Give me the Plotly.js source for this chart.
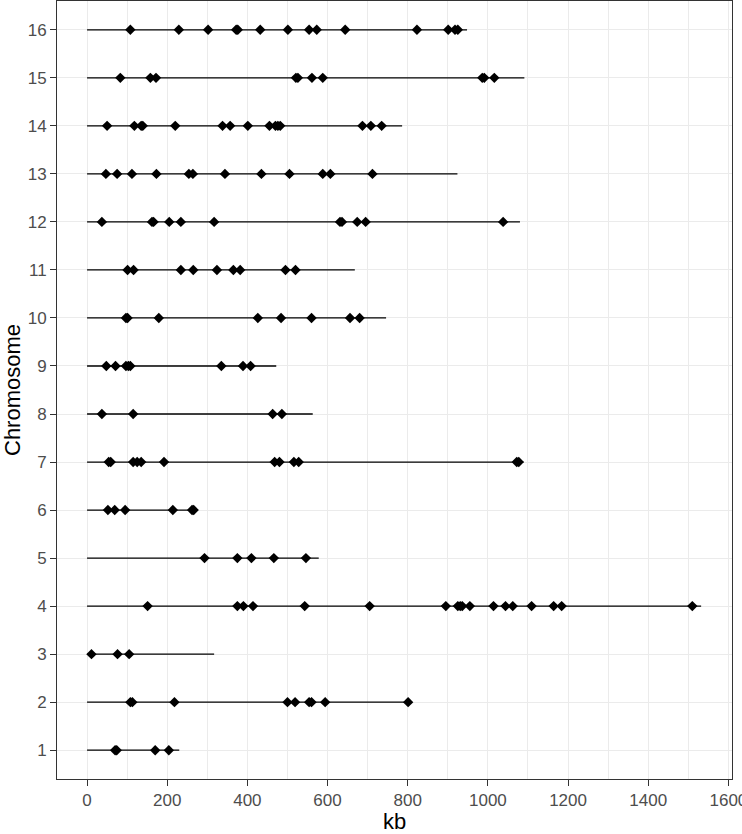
<!DOCTYPE html>
<html>
<head>
<meta charset="utf-8">
<script src="https://cdn.plot.ly/plotly-3.0.1.min.js"></script>
<style>
  body { margin: 0; background: #fff; overflow: hidden; }
  #plot { width: 742px; height: 834px; }
</style>
</head>
<body>
<div id="plot"></div>
<script>
// chromosome lengths (kb) and marker positions (kb)
var chromosomes = [1, 2, 3, 4, 5, 6, 7, 8, 9, 10, 11, 12, 13, 14, 15, 16];
var lengths = [230, 802, 317, 1532, 578, 267, 1089, 563, 472, 746, 668, 1080, 924, 786, 1091, 948];

var chr1 = [70, 74, 170, 204];
var chr2 = [108, 113, 218, 500, 519, 554, 560, 594, 801];
var chr3 = [11, 76, 105];
var chr4 = [151, 375, 390, 414, 543, 705, 895, 925, 931, 936, 955, 1014, 1044, 1062, 1109, 1164, 1184, 1510];
var chr5 = [293, 375, 410, 466, 546];
var chr6 = [52, 69, 95, 214, 262, 266];
var chr7 = [54, 59, 115, 125, 135, 192, 468, 480, 516, 528, 1072, 1077];
var chr8 = [37, 115, 463, 486];
var chr9 = [48, 71, 97, 103, 108, 335, 389, 408];
var chr10 = [97, 101, 179, 426, 484, 560, 656, 680];
var chr11 = [101, 116, 234, 265, 324, 365, 382, 495, 520];
var chr12 = [37, 162, 166, 205, 234, 317, 631, 636, 674, 695, 1038];
var chr13 = [47, 75, 112, 173, 254, 264, 344, 435, 505, 588, 607, 712];
var chr14 = [50, 118, 135, 139, 220, 338, 357, 401, 455, 470, 476, 482, 687, 708, 735];
var chr15 = [83, 158, 172, 521, 526, 561, 588, 986, 991, 1016];
var chr16 = [108, 229, 302, 372, 376, 432, 501, 554, 573, 644, 823, 901, 918, 925];

var markers = [chr1, chr2, chr3, chr4, chr5, chr6, chr7, chr8,
               chr9, chr10, chr11, chr12, chr13, chr14, chr15, chr16];

var xTicks = [0, 200, 400, 600, 800, 1000, 1200, 1400, 1600];

// segments from 0 to chromosome length
var segX = [], segY = [];
chromosomes.forEach(function(c, i) {
  segX.push(0, lengths[i], null);
  segY.push(c, c, null);
});

var ptX = [], ptY = [];
markers.forEach(function(arr, i) {
  arr.forEach(function(v) {
    ptX.push(v);
    ptY.push(chromosomes[i]);
  });
});

var traces = [
  {
    x: segX, y: segY,
    type: "scatter", mode: "lines",
    line: { color: "#000000", width: 1.3 },
    hoverinfo: "skip"
  },
  {
    x: ptX, y: ptY,
    type: "scatter", mode: "markers",
    marker: { symbol: "diamond", size: 8, color: "#000000", line: { width: 0 } }
  }
];

var layout = {
  width: 742,
  height: 834,
  margin: { l: 57, r: 10, t: 1, b: 55 },
  paper_bgcolor: "#ffffff",
  plot_bgcolor: "#ffffff",
  showlegend: false,
  font: { family: "Liberation Sans, Arial, sans-serif", color: "#4d4d4d", size: 17 },
  xaxis: {
    range: [-75, 1609],
    tickvals: xTicks,
    ticktext: xTicks.map(String),
    ticks: "outside",
    ticklen: 6,
    tickwidth: 1,
    tickcolor: "#333333",
    ticklabeloverflow: "allow",
    showgrid: true,
    gridcolor: "#ebebeb",
    gridwidth: 1,
    minor: { dtick: 100, tick0: 0, showgrid: true, gridcolor: "#ebebeb", gridwidth: 1 },
    zeroline: false,
    showline: true,
    mirror: true,
    linecolor: "#333333",
    linewidth: 1,
    tickfont: { size: 17, color: "#4d4d4d" },
    title: { text: "kb", font: { size: 22, color: "#000000" }, standoff: 5 }
  },
  yaxis: {
    range: [0.4, 16.6],
    tickvals: chromosomes,
    ticktext: chromosomes.map(String),
    ticks: "outside",
    ticklen: 6,
    tickwidth: 1,
    tickcolor: "#333333",
    showgrid: true,
    gridcolor: "#ebebeb",
    gridwidth: 1,
    zeroline: false,
    showline: true,
    mirror: true,
    linecolor: "#333333",
    linewidth: 1,
    tickfont: { size: 17, color: "#4d4d4d" },
    title: { text: "Chromosome", font: { size: 22, color: "#000000" }, standoff: 2 }
  }
};

Plotly.newPlot("plot", traces, layout, { displayModeBar: false, staticPlot: true });
</script>
</body>
</html>
